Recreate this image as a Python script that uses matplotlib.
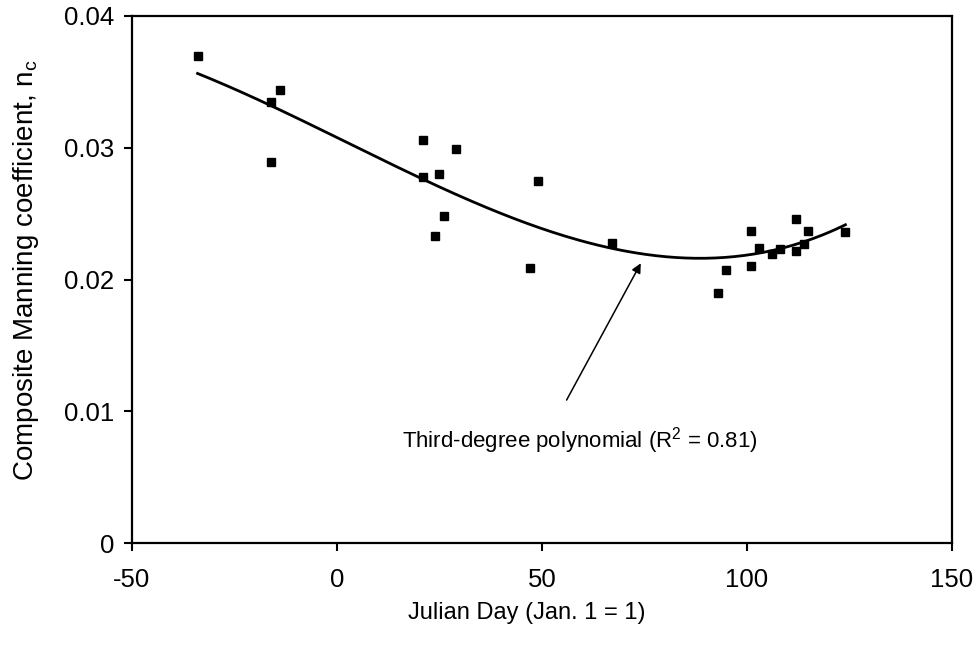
import numpy as np
import matplotlib
matplotlib.use("Agg")
import matplotlib.pyplot as plt

plt.rcParams['font.family'] = ['Liberation Sans', 'DejaVu Sans']
plt.rcParams['axes.unicode_minus'] = False

# 观测数据 (Julian Day, composite Manning n)
julian_day = [-34, -16, -14, -16, 21, 21, 25, 29, 49, 26, 24, 47, 67,
              93, 95, 101, 101, 103, 106, 108, 112, 112, 114, 115, 124]
manning_n = [0.0370, 0.0335, 0.0344, 0.0289, 0.0306, 0.0278, 0.0280, 0.0299,
             0.0275, 0.0248, 0.0233, 0.0209, 0.0228, 0.0190, 0.0207, 0.0237,
             0.0210, 0.0224, 0.0219, 0.0223, 0.0246, 0.0222, 0.0227, 0.0237,
             0.0236]

x_ticks = [-50, 0, 50, 100, 150]
y_ticks = [0, 0.01, 0.02, 0.03, 0.04]
y_tick_labels = ['0', '0.01', '0.02', '0.03', '0.04']

fig = plt.figure(figsize=(9.76, 6.45), dpi=100)
ax = fig.add_axes([0.1352, 0.1581, 0.8402, 0.8171])

ax.plot(julian_day, manning_n, 's', color='black', markersize=5.8, linestyle='none')

# 三次多项式趋势线
coef = np.polyfit(julian_day, manning_n, 3)
xs = np.linspace(min(julian_day), max(julian_day), 200)
ax.plot(xs, np.polyval(coef, xs), color='black', linewidth=2.0)

ax.annotate('', xy=(74.1, 0.02123), xytext=(56.0, 0.01085),
            arrowprops=dict(arrowstyle='-|>', color='black', lw=1.1,
                            mutation_scale=14, shrinkA=0, shrinkB=0))
ax.text(59.3, 0.0078, 'Third-degree polynomial (R$^\\mathregular{2}$ = 0.81)',
        ha='center', va='center', fontsize=16)

ax.set_xlim(-50, 150)
ax.set_ylim(0, 0.04)
ax.set_xticks(x_ticks)
ax.set_yticks(y_ticks)
ax.set_yticklabels(y_tick_labels)
ax.tick_params(direction='out', length=6, width=1.5, labelsize=18.5)
ax.tick_params(axis='x', pad=12)
ax.tick_params(axis='y', pad=7)
for s in ax.spines.values():
    s.set_linewidth(1.6)

ax.set_xlabel('Julian Day (Jan. 1 = 1)', fontsize=17, labelpad=7)
ax.set_ylabel('Composite Manning coefficient, n$_\\mathregular{c}$', fontsize=20, labelpad=16)
# 标签位置略偏（与原图一致）
ax.xaxis.label.set_x(0.482)
ax.yaxis.label.set_y(0.517)

plt.savefig('out.png', dpi=100)
